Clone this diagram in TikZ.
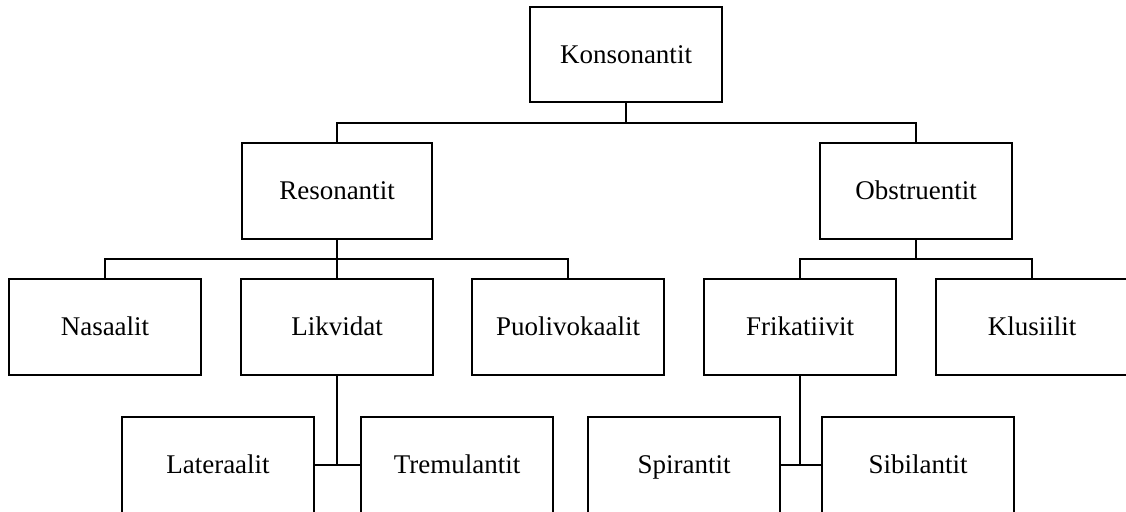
\documentclass[tikz,border=0pt]{standalone}
\usepackage{fontspec}
\setmainfont{Liberation Serif}
\begin{document}
\begin{tikzpicture}[x=1pt,y=-1pt,
  box/.style={draw, line width=2.6pt, rectangle, minimum width=192pt, minimum height=96pt, inner sep=0pt, outer sep=0pt, text height=17.5pt, text depth=0pt, font=\fontsize{27pt}{31pt}\selectfont},
  conn/.style={line width=2.6pt}]
\useasboundingbox (0,0) rectangle (1126,511);
\clip (0,0) rectangle (1126,511);
\fill[white] (0,0) rectangle (1126,511);
\node[box, minimum height=95pt] (k) at (626,54.5) {Konsonantit};
\node[box, minimum width=190pt] (r) at (337,191) {Resonantit};
\node[box] (o) at (916,191) {Obstruentit};
\node[box] (n) at (105,327) {Nasaalit};
\node[box] (l) at (337,327) {Likvidat};
\node[box] (p) at (568,327) {Puolivokaalit};
\node[box] (f) at (800,327) {Frikatiivit};
\node[box] (kl) at (1032,327) {Klusiilit};
\node[box] (la) at (218,465) {Lateraalit};
\node[box] (tr) at (457,465) {Tremulantit};
\node[box] (sp) at (684,465) {Spirantit};
\node[box] (si) at (918,465) {Sibilantit};
\coordinate (j1) at (626,123);
\coordinate (j2) at (337,259);
\coordinate (j3) at (916,259);
\draw[conn] (k.south) -- (j1);
\draw[conn] (r.north) |- (j1) -| (o.north);
\draw[conn] (r.south) -- (j2);
\draw[conn] (n.north) |- (j2) -| (p.north);
\draw[conn] (j2) -- (l.north);
\draw[conn] (o.south) -- (j3);
\draw[conn] (f.north) |- (j3) -| (kl.north);
\draw[conn] (l.south) -- (l.south |- la.east);
\draw[conn] (la.east) -- (tr.west);
\draw[conn] (f.south) -- (f.south |- sp.east);
\draw[conn] (sp.east) -- (si.west);
\end{tikzpicture}
\end{document}
